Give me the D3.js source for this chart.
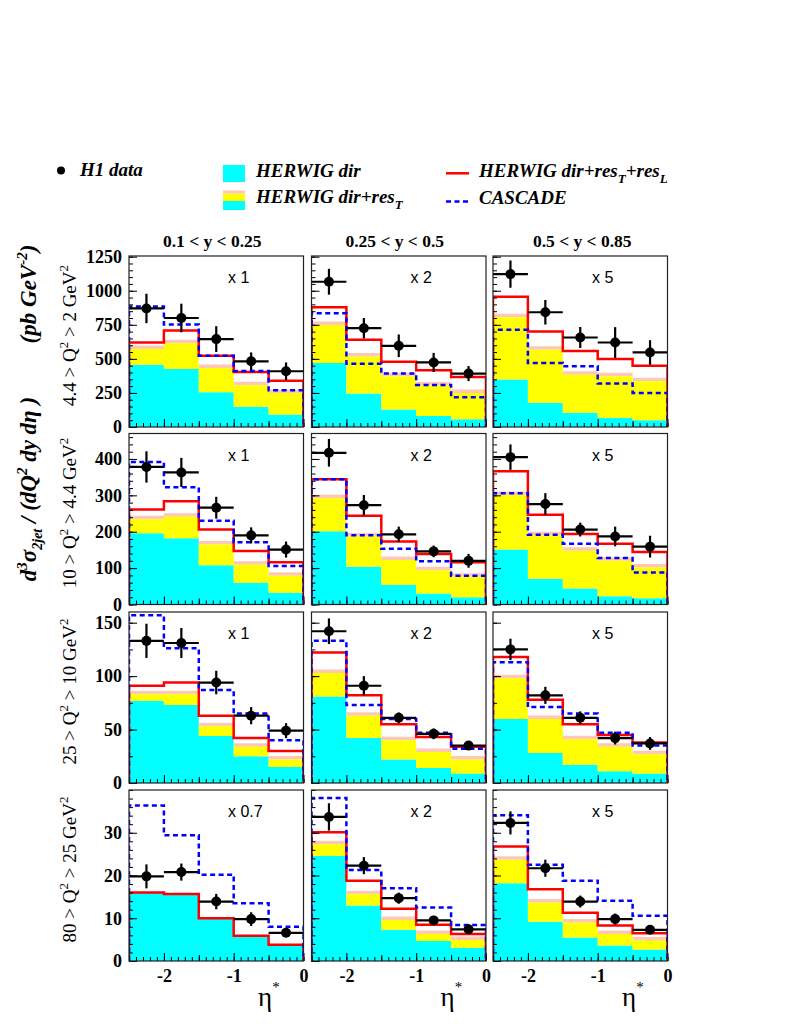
<!DOCTYPE html>
<html><head><meta charset="utf-8">
<script src="https://cdn.jsdelivr.net/npm/d3@7"></script>
<style>body{margin:0;background:#fff}</style>
</head><body>
<svg id="c" width="800" height="1035" xmlns="http://www.w3.org/2000/svg"></svg>
<script>
// ---------------- data ----------------
const etaEdges = [-2.5, -2, -1.5, -1, -0.5, 0];
const xTickValues = [-2, -1, 0];
const yRangeLabels = ["0.1 < y < 0.25", "0.25 < y < 0.5", "0.5 < y < 0.85"];
const q2High = ["4.4", "10", "25", "80"];
const q2Low = ["2", "4.4", "10", "25"];
const scaleLabels = [["x 1","x 2","x 5"],["x 1","x 2","x 5"],["x 1","x 2","x 5"],["x 0.7","x 2","x 5"]];
const yMaxByRow = [1255, 470, 160, 40];
const yTicksByRow = [[0,250,500,750,1000,1250],[0,100,200,300,400],[0,50,100,150],[0,10,20,30]];
const yMinorStepByRow = [50, 20, 25, 2];

const h1Data = [
 [[870,800,645,482,409],[1066,725,596,474,392],[1122,842,657,620,547]],
 [[378,363,266,190,151],[417,273,193,146,120],[405,276,206,187,159]],
 [[133,131,94,63,49],[142,91,61,46,35],[125,82,61,42,37]],
 [[19.8,20.8,13.9,9.8,6.6],[33.7,22.3,14.7,9.5,7.4],[32.3,21.7,13.9,9.8,7.3]]
];
const h1Err = [
 [[108,105,95,65,65],[95,75,83,70,55],[100,90,77,113,90]],
 [[43,40,30,22,22],[38,28,21,16,19],[35,30,19,27,30]],
 [[16,14,11,8,7],[12,9,5,5,4],[10,8,6,6,6]],
 [[2.8,2,1.8,1.6,1],[3.2,2,1.3,0.8,0.7],[2.7,2,1.4,1.3,0.8]]
];
const herwigDir = [
 [[457,426,255,148,92],[470,246,129,80,56],[348,178,105,68,49]],
 [[196,182,108,60,32],[201,104,54,30,20],[151,71,44,23,17]],
 [[77,73,44,25,15],[81,42,22,14,9],[60,28,17,11,9]],
 [[15.9,15.5,9.8,5.9,3.6],[24.6,13.0,7.3,4.7,3.1],[18.2,9.2,5.5,3.6,2.7]]
];
const herwigResT = [
 [[572,615,433,306,250],[749,518,372,304,250],[805,567,384,372,336]],
 [[234,241,165,109,79],[292,187,122,94,76],[301,190,148,120,102]],
 [[83,83,53,34,22],[103,63,40,29,22],[98,60,41,34,27]],
 [null,[27.3,15.6,9.6,6.3,4.9],[23.7,13.7,9.0,6.3,4.8]]
];
const herwigResTL = [
 [[620,708,523,404,340],[878,640,479,416,367],[956,701,557,499,450]],
 [[261,284,206,147,116],[344,244,173,139,116],[366,247,194,167,144]],
 [[91,94,63,42,30],[122,82,55,43,34],[118,78,55,45,38]],
 [[16.0,15.7,10.0,5.9,3.8],[30.1,18.8,12.2,8.5,6.3],[26.8,16.8,11.3,8.3,6.5]]
];
const cascade = [
 [[885,752,523,411,270],[835,465,392,309,219],[713,470,445,319,250]],
 [[392,322,230,171,106],[344,190,153,119,79],[306,192,167,128,88]],
 [[157,126,87,65,40],[133,73,60,47,32],[113,71,65,47,35]],
 [[36.4,29.4,20.2,13.5,8.0],[38.1,21.3,17.0,12.5,8.4],[34.1,22.5,18.8,14.1,10.6]]
];

// ---------------- layout ----------------
const panelLeft = [129, 311.5, 493];
const panelW = 174.5;
const panelTop = [256, 433.5, 612, 790];
const panelH = 171;
const SERIF = "'Liberation Serif','Times New Roman',serif";
const SANS = "'Liberation Sans',Arial,sans-serif";
const C_CYAN = "#00ffff", C_YEL = "#ffff00", C_PINK = "#ffc8b4", C_RED = "#ff0000", C_BLUE = "#0000ff";
const hyphenFmt = v => String(v);

const svg = d3.select("#c");

function stepPts(vals) {
  const pts = [];
  vals.forEach((v, i) => { pts.push([etaEdges[i], v]); pts.push([etaEdges[i+1], v]); });
  return pts;
}

for (let r = 0; r < 4; r++) {
  for (let c = 0; c < 3; c++) {
    const x = d3.scaleLinear().domain([-2.5, 0]).range([0, panelW]);
    const y = d3.scaleLinear().domain([0, yMaxByRow[r]]).range([panelH, 0]);
    const g = svg.append("g").attr("transform", `translate(${panelLeft[c]},${panelTop[r]})`);
    const cid = `clip${r}${c}`;
    g.append("clipPath").attr("id", cid).append("rect").attr("x", 0).attr("y", 0).attr("width", panelW).attr("height", panelH);
    const body = g.append("g").attr("clip-path", `url(#${cid})`);

    const dir = herwigDir[r][c];
    const resT = herwigResT[r][c];
    const areaCyan = d3.area().x(d => x(d[0])).y0(y(0)).y1(d => y(d[1]));
    body.append("path").attr("d", areaCyan(stepPts(dir))).attr("fill", C_CYAN);
    if (resT) {
      const pts = [];
      dir.forEach((v, i) => { pts.push([etaEdges[i], v, resT[i]]); pts.push([etaEdges[i+1], v, resT[i]]); });
      const areaPink = d3.area().x(d => x(d[0])).y0(d => y(d[2])).y1(d => y(d[2]) - 3.5);
      body.append("path").attr("d", areaPink(pts)).attr("fill", C_PINK);
      const areaYel = d3.area().x(d => x(d[0])).y0(d => y(d[1])).y1(d => y(d[2]));
      body.append("path").attr("d", areaYel(pts)).attr("fill", C_YEL);
    }
    const line = d3.line().x(d => x(d[0])).y(d => y(d[1]));
    const outline = vals => [[etaEdges[0], 0], ...stepPts(vals), [etaEdges[5], 0]];
    body.append("path").attr("d", line(outline(herwigResTL[r][c]))).attr("fill", "none")
      .attr("stroke", C_RED).attr("stroke-width", 2.5);
    body.append("path").attr("d", line(outline(cascade[r][c]))).attr("fill", "none")
      .attr("stroke", C_BLUE).attr("stroke-width", 2.5).attr("stroke-dasharray", "5,3.5");

    const dat = h1Data[r][c], err = h1Err[r][c];
    const pts = dat.map((v, i) => ({ x0: etaEdges[i], x1: etaEdges[i+1], xc: (etaEdges[i] + etaEdges[i+1]) / 2, v, e: err[i] }));
    const dg = g.append("g");
    dg.selectAll("line.h").data(pts).join("line").attr("x1", d => x(d.x0)).attr("x2", d => Math.min(x(d.x1), panelW))
      .attr("y1", d => y(d.v)).attr("y2", d => y(d.v)).attr("stroke", "#000").attr("stroke-width", 2.2);
    dg.selectAll("line.v").data(pts).join("line").attr("x1", d => x(d.xc)).attr("x2", d => x(d.xc))
      .attr("y1", d => y(d.v - d.e)).attr("y2", d => y(d.v + d.e)).attr("stroke", "#000").attr("stroke-width", 2.2);
    dg.selectAll("circle").data(pts).join("circle").attr("cx", d => x(d.xc)).attr("cy", d => y(d.v)).attr("r", 5).attr("fill", "#000");

    const yAxMinor = d3.axisLeft(y).tickValues(d3.range(0, yMaxByRow[r] + 1e-9, yMinorStepByRow[r])).tickSize(-4).tickFormat("");
    const yAxMajor = d3.axisLeft(y).tickValues(yTicksByRow[r]).tickSize(-8).tickPadding(7).tickFormat(c === 0 ? hyphenFmt : "");
    const xAxMinor = d3.axisBottom(x).tickValues(d3.range(-25, 1).map(k => k / 10)).tickSize(-4).tickFormat("");
    const xAxMid = d3.axisBottom(x).tickValues([-2.5, -1.5, -0.5]).tickSize(-6).tickFormat("");
    const xAxMajor = d3.axisBottom(x).tickValues(xTickValues).tickSize(-8).tickPadding(8).tickFormat(r === 3 ? hyphenFmt : "");
    [yAxMinor, yAxMajor].forEach(ax => {
      const a = g.append("g").call(ax);
      a.select(".domain").remove();
      a.selectAll("line").attr("stroke", "#000").attr("stroke-width", 1);
      a.selectAll("text").attr("font-family", SERIF).attr("font-weight", "bold").attr("font-size", 18).attr("fill", "#000");
    });
    [xAxMinor, xAxMid, xAxMajor].forEach(ax => {
      const a = g.append("g").attr("transform", `translate(0,${panelH})`).call(ax);
      a.select(".domain").remove();
      a.selectAll("line").attr("stroke", "#000").attr("stroke-width", 1);
      a.selectAll("text").attr("font-family", SERIF).attr("font-weight", "bold").attr("font-size", 18).attr("fill", "#000");
    });

    g.append("rect").attr("x", 0).attr("y", 0).attr("width", panelW).attr("height", panelH)
      .attr("fill", "none").attr("stroke", "#222").attr("stroke-width", 1.2);

    g.append("text").attr("x", 99).attr("y", 27).attr("font-family", SANS).attr("font-size", 16).attr("fill", "#000")
      .text(scaleLabels[r][c]);

    if (r === 3) {
      const t = g.append("text").attr("x", 129).attr("y", panelH + 45).attr("font-family", SERIF).attr("font-size", 27).attr("fill", "#000");
      t.append("tspan").text("η");
      t.append("tspan").attr("font-size", 15).attr("dy", -14).text("*");
    }
  }
}

yRangeLabels.forEach((s, c) => {
  svg.append("text").attr("x", panelLeft[c] + panelW / 2 - 4 + (c === 2 ? 6 : 0)).attr("y", 247).attr("text-anchor", "middle")
    .attr("font-family", SERIF).attr("font-weight", "bold").attr("font-size", 17.5).text(s);
});

q2High.forEach((hi, r) => {
  const cy = panelTop[r] + panelH / 2 - 6;
  const t = svg.append("text").attr("transform", `translate(76,${cy}) rotate(-90)`).attr("text-anchor", "middle")
    .attr("font-family", SERIF).attr("font-size", 19).attr("fill", "#000");
  t.append("tspan").text(hi + " > Q");
  t.append("tspan").attr("font-size", 13).attr("dy", -8).text("2");
  t.append("tspan").attr("dy", 8).text(" > " + q2Low[r] + " GeV");
  t.append("tspan").attr("font-size", 13).attr("dy", -8).text("2");
});

{
  const t = svg.append("text").attr("transform", "translate(36,489) rotate(-90)").attr("text-anchor", "middle")
    .attr("font-family", SERIF).attr("font-weight", "bold").attr("font-style", "italic").attr("font-size", 23).attr("fill", "#000");
  t.append("tspan").text("d");
  t.append("tspan").attr("font-size", 15).attr("dy", -9).text("3");
  t.append("tspan").attr("dy", 9).text("σ");
  t.append("tspan").attr("font-size", 14).attr("dy", 6).text("2jet");
  t.append("tspan").attr("dy", -6).text(" / (dQ");
  t.append("tspan").attr("font-size", 15).attr("dy", -9).text("2");
  t.append("tspan").attr("dy", 9).text("  dy dη )");
  const t2 = svg.append("text").attr("transform", "translate(36,294) rotate(-90)").attr("text-anchor", "middle")
    .attr("font-family", SERIF).attr("font-weight", "bold").attr("font-style", "italic").attr("font-size", 23).attr("fill", "#000");
  t2.append("tspan").text("(pb GeV");
  t2.append("tspan").attr("font-size", 15).attr("dy", -9).text("-2");
  t2.append("tspan").attr("dy", 9).text(")");
}

{
  const L = svg.append("g");
  const txt = (x, yb) => L.append("text").attr("x", x).attr("y", yb).attr("font-family", SERIF).attr("font-weight", "bold")
    .attr("font-style", "italic").attr("font-size", 19).attr("fill", "#000");
  L.append("circle").attr("cx", 61).attr("cy", 170.5).attr("r", 4).attr("fill", "#000");
  txt(80, 176).text("H1 data");
  L.append("rect").attr("x", 223).attr("y", 165).attr("width", 22).attr("height", 17).attr("fill", C_CYAN);
  txt(256, 177).text("HERWIG dir");
  L.append("rect").attr("x", 223).attr("y", 201).attr("width", 22).attr("height", 9).attr("fill", C_CYAN);
  L.append("rect").attr("x", 223).attr("y", 193.5).attr("width", 22).attr("height", 7.5).attr("fill", C_YEL);
  L.append("rect").attr("x", 223).attr("y", 190.5).attr("width", 22).attr("height", 3).attr("fill", C_PINK);
  const t2 = txt(256, 203);
  t2.append("tspan").text("HERWIG dir+res");
  t2.append("tspan").attr("font-size", 13).attr("dy", 6).text("T");
  L.append("line").attr("x1", 446).attr("x2", 469).attr("y1", 173.3).attr("y2", 173.3).attr("stroke", C_RED).attr("stroke-width", 2.5);
  const t3 = txt(479, 177);
  t3.append("tspan").text("HERWIG dir+res");
  t3.append("tspan").attr("font-size", 13).attr("dy", 6).text("T");
  t3.append("tspan").attr("dy", -6).text("+res");
  t3.append("tspan").attr("font-size", 13).attr("dy", 6).text("L");
  L.append("line").attr("x1", 446).attr("x2", 469).attr("y1", 201.5).attr("y2", 201.5).attr("stroke", C_BLUE).attr("stroke-width", 2.5).attr("stroke-dasharray", "5,3.5");
  txt(479, 204).text("CASCADE");
}
</script>
</body></html>
